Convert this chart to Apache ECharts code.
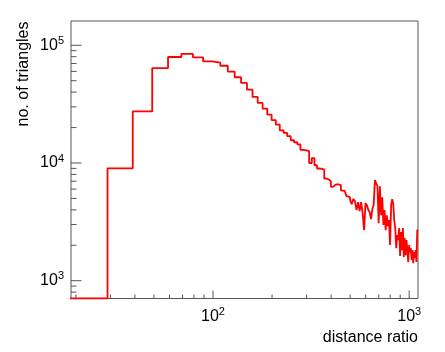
<!DOCTYPE html>
<html>
<head>
<meta charset="utf-8">
<script src="https://cdn.jsdelivr.net/npm/echarts@6/dist/echarts.min.js"></script>
<style>
  html, body { margin: 0; padding: 0; background: #fff; }
  #chart { width: 445px; height: 352px; }
</style>
</head>
<body>
<div id="chart"></div>
<script>
// histogram: fixed-width bins, first bin starts at binStart
var binStart = 9;
var binWidth = 10;
var counts = [
  0, 0,
  9000, 27400, 64000, 79500, 84500, 79000, 73000, 71300, 67000, 59800, 53500,
  47900, 42000, 36400, 32400, 29000, 25800, 23100, 21200, 18900, 18000, 16900,
  15600, 15000, 14400, 12900, 12800, 12600,
  10000, 11000, 9570, 8980, 8900, 8800, 7385, 7240, 7000, 6270, 6480, 6600,
  6600, 6500, 5850, 5800, 5750, 5230, 5120,
  4900, 4470, 4930, 4740, 3975, 4650, 3900, 4650, 3750, 2690, 4560, 4380,
  3980, 3820, 3330, 4050, 4400, 7150, 6700, 6400,
  3080, 6350, 3600, 5120, 2970, 3980, 2690, 3600, 2910, 3270, 2010, 4380,
  4930, 4560, 3270, 2800, 1890, 2440, 2210, 2800,
  1620, 2590, 1820, 2800, 1590, 2300, 1650, 2210, 1820, 1440, 2010, 1750,
  1890, 1500, 1820, 1410, 1750, 1560, 1820, 1440, 2690
];

var xMin = 18.89, xMax = 1109;
var yMin = 706, yMax = 160800;

var xMajorTicks = [100, 1000];
var xMinorTicks = [20, 30, 40, 50, 60, 70, 80, 90, 200, 300, 400, 500, 600, 700, 800, 900];
var yMajorTicks = [1000, 10000, 100000];
var yMinorTicks = [800, 900, 2000, 3000, 4000, 5000, 6000, 7000, 8000, 9000,
  20000, 30000, 40000, 50000, 60000, 70000, 80000, 90000];

var FONT = '"Liberation Sans", Arial, Helvetica, sans-serif';
var frameColor = '#555';

// empty bins sit on the bottom of the frame, like ROOT does on a log axis
var points = counts.map(function (c, i) {
  return [binStart + i * binWidth, Math.max(c, yMin)];
});
points.push([binStart + counts.length * binWidth, Math.max(counts[counts.length - 1], yMin)]);

function powLabel(v) {
  var e = Math.log10(v);
  var n = Math.round(e);
  if (Math.abs(e - n) > 1e-6) return '';
  return '{b|10}{s|' + n + '}';
}

var labelRich = {
  b: { fontSize: 16, fontFamily: FONT, color: '#000', lineHeight: 20 },
  s: { fontSize: 11, fontFamily: FONT, color: '#000', verticalAlign: 'top' }
};

function tickSeries(values, axis, len) {
  return {
    type: 'custom',
    silent: true,
    data: values.map(function (v) { return axis === 'x' ? [v, yMin] : [xMin, v]; }),
    renderItem: function (params, api) {
      var cs = params.coordSys;
      var p = api.coord([api.value(0), api.value(1)]);
      var shape = axis === 'x'
        ? { x1: p[0], y1: cs.y + cs.height, x2: p[0], y2: cs.y + cs.height - len }
        : { x1: cs.x, y1: p[1], x2: cs.x + len, y2: p[1] };
      return { type: 'line', shape: shape, style: { stroke: frameColor, lineWidth: 1 } };
    }
  };
}

var chart = echarts.init(document.getElementById('chart'));
var option = {
  animation: false,
  backgroundColor: '#fff',
  grid: {
    left: 71, right: 27, top: 21, bottom: 53.5,
    show: true, borderColor: frameColor, borderWidth: 1, backgroundColor: 'transparent'
  },
  xAxis: {
    type: 'log', logBase: 10, min: xMin, max: xMax,
    axisLine: { show: false },
    axisTick: { show: false },
    splitLine: { show: false },
    axisLabel: { margin: 8, formatter: powLabel, rich: labelRich }
  },
  yAxis: {
    type: 'log', logBase: 10, min: yMin, max: yMax,
    axisLine: { show: false },
    axisTick: { show: false },
    splitLine: { show: false },
    axisLabel: { margin: 7, formatter: powLabel, rich: labelRich }
  },
  graphic: [
    {
      type: 'text', x: 24, y: 21.5, rotation: Math.PI / 2,
      style: { text: 'no. of triangles', fontSize: 16, fontFamily: FONT, fill: '#000',
               align: 'right', verticalAlign: 'middle' }
    },
    {
      type: 'text', x: 418, y: 330,
      style: { text: 'distance ratio', fontSize: 16, fontFamily: FONT, fill: '#000',
               align: 'right', verticalAlign: 'top' }
    }
  ],
  series: [
    tickSeries(xMajorTicks, 'x', 8),
    tickSeries(xMinorTicks, 'x', 4),
    tickSeries(yMajorTicks, 'y', 10.5),
    tickSeries(yMinorTicks, 'y', 5.5),
    {
      type: 'line',
      step: 'end',
      data: points,
      showSymbol: false,
      clip: true,
      lineStyle: { color: '#ff0000', width: 1.8 },
      z: 5
    }
  ]
};
chart.setOption(option);
</script>
</body>
</html>
